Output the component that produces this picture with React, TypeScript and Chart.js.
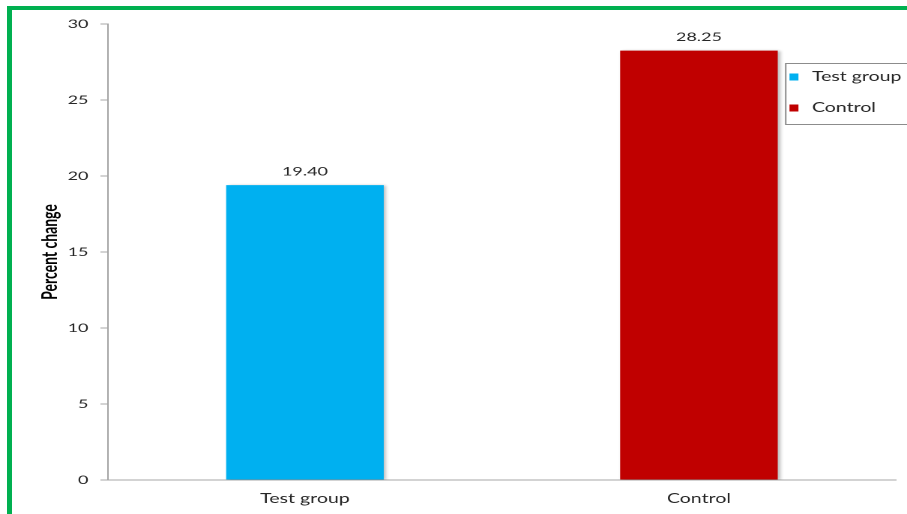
import React, { useEffect, useRef } from 'react';
import { Chart, registerables } from 'chart.js';

Chart.register(...registerables);

// ---- data ----
const categories = ['Test group', 'Control'];
const values = [19.4, 28.25];
const valueLabels = ['19.40', '28.25'];
const barColors = ['#00B0F0', '#C00000'];
const legendLabels = ['Test group', 'Control'];
const yTicks = [0, 5, 10, 15, 20, 25, 30];
const yAxisTitle = 'Percent change';

// the reference is a horizontally stretched chart; draw narrow and stretch
const CANVAS_W = 605;
const CANVAS_H = 514;
const SX = 907 / CANVAS_W;

const FONT = 'Lato, "Open Sans", sans-serif';
const AXIS_GRAY = '#a6a6a6';
const TEXT = '#262626';

const valueLabelPlugin = {
  id: 'valueLabelPlugin',
  afterDatasetsDraw(chart: any) {
    const ctx = chart.ctx;
    const meta = chart.getDatasetMeta(0);
    ctx.save();
    ctx.font = `12px ${FONT}`;
    ctx.fillStyle = TEXT;
    ctx.textAlign = 'center';
    ctx.textBaseline = 'alphabetic';
    meta.data.forEach((el: any, i: number) => {
      ctx.fillText(valueLabels[i], el.x, el.y - 9.5);
    });
    ctx.restore();
  },
};

const shadowPlugin = {
  id: 'shadowPlugin',
  beforeDatasetDraw(chart: any) {
    const ctx = chart.ctx;
    ctx.save();
    ctx.shadowColor = 'rgba(0,0,0,0.28)';
    ctx.shadowBlur = 5;
    ctx.shadowOffsetX = 3;
    ctx.shadowOffsetY = 1;
  },
  afterDatasetDraw(chart: any) {
    chart.ctx.restore();
  },
};

const legendPlugin = {
  id: 'boxLegend',
  afterDraw(chart: any) {
    const ctx = chart.ctx;
    const area = chart.chartArea;
    const left = area.right - 74;
    const top = area.top + 39;
    const h = 61;
    ctx.save();
    ctx.strokeStyle = '#8c8c8c';
    ctx.lineWidth = 1;
    ctx.fillStyle = '#ffffff';
    ctx.fillRect(left, top, CANVAS_W - left + 5, h);
    ctx.strokeRect(left + 0.5, top + 0.5, CANVAS_W - left + 5, h);
    ctx.font = `13px ${FONT}`;
    ctx.textBaseline = 'middle';
    ctx.textAlign = 'left';
    legendLabels.forEach((lab, i) => {
      const cy = top + 14 + i * 31;
      ctx.fillStyle = barColors[i];
      ctx.fillRect(left + 3, cy - 3.5, 6, 7);
      ctx.fillStyle = TEXT;
      ctx.fillText(lab, left + 18, cy);
    });
    ctx.restore();
  },
};

export default function App() {
  const ref = useRef<HTMLCanvasElement | null>(null);

  useEffect(() => {
    if (!ref.current) return;
    const chart = new Chart(ref.current, {
      type: 'bar',
      data: {
        labels: categories,
        datasets: [
          {
            label: 'Percent change',
            data: values,
            backgroundColor: barColors,
            borderWidth: 0,
            barPercentage: 0.4,
            categoryPercentage: 1,
          },
        ],
      },
      options: {
        responsive: false,
        maintainAspectRatio: false,
        animation: false,
        devicePixelRatio: 2,
        layout: { padding: { top: 24, right: 7.4, left: 0, bottom: 0 } },
        plugins: {
          legend: { display: false },
          tooltip: { enabled: false },
        },
        scales: {
          x: {
            grid: { display: false, drawTicks: false },
            border: { display: true, color: AXIS_GRAY, width: 1 },
            ticks: { color: TEXT, font: { family: FONT, size: 13 }, padding: 11 },
            afterFit: (s: any) => {
              s.height = 34;
            },
          },
          y: {
            min: 0,
            max: 30,
            afterBuildTicks: (s: any) => {
              s.ticks = yTicks.map((v) => ({ value: v }));
            },
            ticks: { color: TEXT, font: { family: FONT, size: 12 }, padding: 8 },
            grid: {
              display: true,
              drawOnChartArea: false,
              drawTicks: true,
              tickLength: 5,
              color: AXIS_GRAY,
            },
            border: { display: true, color: AXIS_GRAY, width: 1 },
            title: {
              display: true,
              text: yAxisTitle,
              color: '#000000',
              font: { family: FONT, size: 14, weight: 'bold' },
              padding: { top: 25, bottom: 0 },
            },
            afterFit: (s: any) => {
              s.width = 72;
            },
          },
        },
      },
      plugins: [shadowPlugin, valueLabelPlugin, legendPlugin],
    } as any);
    return () => chart.destroy();
  }, []);

  return (
    <div
      style={{
        position: 'fixed',
        left: 0,
        top: 0,
        width: 907,
        height: 514,
        overflow: 'hidden',
        background: '#ffffff',
      }}
    >
      <canvas
        ref={ref}
        width={CANVAS_W}
        height={CANVAS_H}
        style={{
          position: 'absolute',
          left: 0,
          top: 0,
          transform: `scaleX(${SX})`,
          transformOrigin: '0 0',
        }}
      />
      <div
        style={{
          position: 'absolute',
          left: 7,
          top: 6,
          width: 1200,
          height: 1200,
          borderLeft: '5px solid #00B050',
          borderTop: '4px solid #00B050',
          pointerEvents: 'none',
        }}
      />
    </div>
  );
}
